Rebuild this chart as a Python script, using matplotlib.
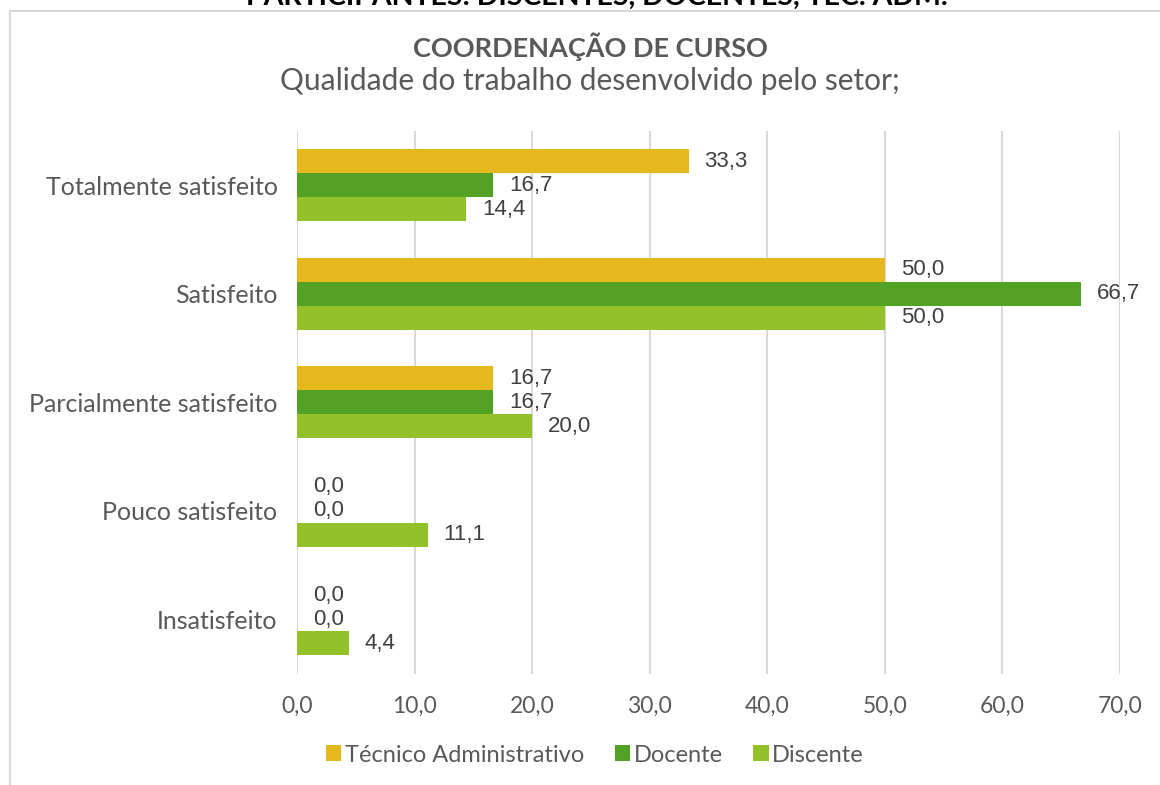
import numpy as np
import matplotlib
matplotlib.use('Agg')
import matplotlib.pyplot as plt
from matplotlib.patches import Rectangle

categories = ['Totalmente satisfeito', 'Satisfeito', 'Parcialmente satisfeito',
              'Pouco satisfeito', 'Insatisfeito']
series_names = ['Técnico Administrativo', 'Docente', 'Discente']
tecnico = [33.3, 50.0, 16.7, 0.0, 0.0]
docente = [16.7, 66.7, 16.7, 0.0, 0.0]
discente = [14.4, 50.0, 20.0, 11.1, 4.4]
x_ticks = [0, 10, 20, 30, 40, 50, 60, 70]

colors = ['#E5B91E', '#53A125', '#92C12A']
txt = '#595959'
lbl = '#404040'

plt.rcParams['font.family'] = ['Lato', 'DejaVu Sans']

fig = plt.figure(figsize=(11.6, 7.85), dpi=100)
fig.patch.set_facecolor('white')

# chart frame (cut off at right/bottom like the screenshot)
fig.patches.append(Rectangle((9.5 / 1160, -0.1), 1.2, 1 - 10.5 / 785 + 0.1,
                             transform=fig.transFigure, fill=False,
                             edgecolor='#D9D9D9', linewidth=1.5))

ax = fig.add_axes([297 / 1160, 1 - 673.5 / 785, (1120 - 297) / 1160, (673.5 - 131) / 785])

h = 0.221
y = np.arange(len(categories))
for k, (vals, name) in enumerate(zip([tecnico, docente, discente], series_names)):
    pos = y + (k - 1) * h
    bars = ax.barh(pos, vals, height=h, color=colors[k], label=name, zorder=3)
    for p, v in zip(pos, vals):
        ax.annotate(f'{v:.1f}'.replace('.', ','), (v, p), xytext=(11.5, 0),
                    textcoords='offset points', va='center', ha='left',
                    fontsize=16, color=lbl, family='Liberation Sans')

ax.set_ylim(4.5, -0.5)
ax.set_xlim(0, 70)
ax.set_xticks(x_ticks)
ax.set_xticklabels([f'{t:.1f}'.replace('.', ',') for t in x_ticks])
ax.set_yticks(y)
ax.set_yticklabels(categories)
ax.tick_params(axis='both', length=0, colors=txt)
ax.tick_params(axis='x', pad=16, labelsize=16.5)
ax.tick_params(axis='y', pad=14, labelsize=18)
ax.grid(axis='x', color='#D9D9D9', linewidth=1.5, zorder=0)
for s in ax.spines.values():
    s.set_visible(False)

# header line from the page above, only its lower edge shows
fig.text(597 / 1160, 1 - 5 / 785, 'PARTICIPANTES: DISCENTES, DOCENTES, TEC. ADM.',
         ha='center', va='baseline', fontsize=20.5, fontweight='bold', color='black')
fig.text(590 / 1160, 1 - 47 / 785, 'COORDENAÇÃO DE CURSO', ha='center', va='center',
         fontsize=19.5, fontweight='bold', color=txt)
fig.text(590 / 1160, 1 - 81 / 785, 'Qualidade do trabalho desenvolvido pelo setor;',
         ha='center', va='center', fontsize=21.5, color=txt)

fig.legend(loc='center', bbox_to_anchor=(595 / 1160, 1 - 755 / 785), ncol=3,
           frameon=False, fontsize=17, labelcolor=txt, handlelength=0.65,
           handleheight=0.65, handletextpad=0.15, columnspacing=1.3)

fig.savefig('out.png', dpi=100)
